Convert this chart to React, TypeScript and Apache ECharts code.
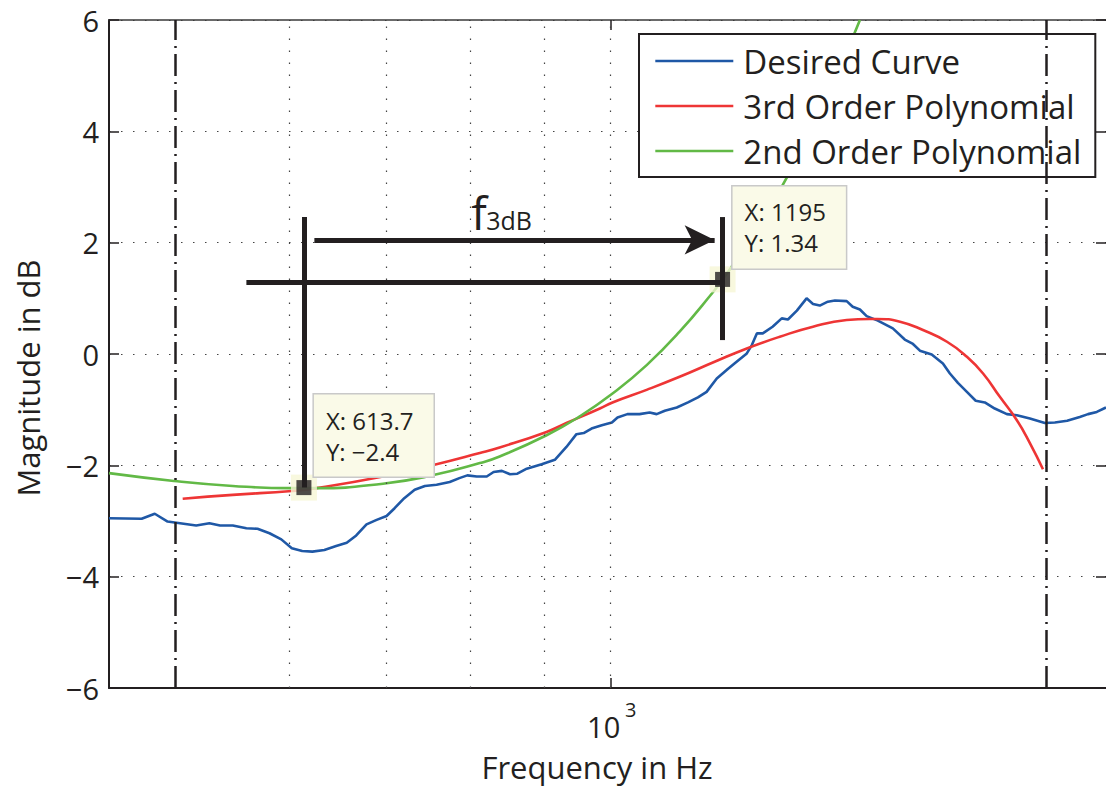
import React, { useEffect, useRef } from "react";
import * as echarts from "echarts";

const FONT = "'Open Sans', 'Noto Sans', sans-serif";
const INK = "#231f20";
const BLUE = "#1f58a6";
const RED = "#ee3535";
const GREEN = "#62b946";

const seriesNames = ["Desired Curve", "3rd Order Polynomial", "2nd Order Polynomial"];

// [frequency in Hz, magnitude in dB]
const desiredCurve: [number, number][] = [
  [450, -2.95], [474, -2.96], [484, -2.87], [494, -3.01], [501, -3.03], [517, -3.08], [528, -3.04],
  [537, -3.08], [548, -3.08], [560, -3.13], [570, -3.14], [581, -3.22], [592, -3.33], [602, -3.49],
  [612, -3.54], [622, -3.55], [634, -3.52], [646, -3.45], [657, -3.39], [667, -3.26], [678, -3.06],
  [689, -2.98], [700, -2.91], [709, -2.77], [720, -2.59], [732, -2.44], [744, -2.37], [758, -2.35],
  [774, -2.3], [786, -2.23], [796, -2.18], [808, -2.2], [821, -2.2], [830, -2.12], [841, -2.1],
  [852, -2.16], [862, -2.15], [875, -2.06], [896, -1.98], [915, -1.9], [932, -1.67], [947, -1.44],
  [958, -1.42], [970, -1.34], [986, -1.28], [1002, -1.23], [1011, -1.14], [1027, -1.08], [1047, -1.08],
  [1064, -1.05], [1076, -1.08], [1090, -1.02], [1111, -0.96], [1131, -0.87], [1149, -0.78], [1165, -0.68],
  [1184, -0.44], [1205, -0.27], [1222, -0.14], [1242, 0.01], [1252, 0.16], [1262, 0.37], [1274, 0.37],
  [1294, 0.49], [1313, 0.64], [1326, 0.62], [1345, 0.78], [1366, 1.0], [1380, 0.9], [1395, 0.87],
  [1413, 0.94], [1429, 0.96], [1456, 0.95], [1470, 0.85], [1487, 0.8], [1503, 0.68], [1530, 0.6],
  [1567, 0.46], [1597, 0.26], [1618, 0.18], [1636, 0.06], [1667, -0.01], [1697, -0.17], [1716, -0.35],
  [1738, -0.52], [1763, -0.68], [1788, -0.84], [1814, -0.87], [1843, -0.98], [1879, -1.08], [1909, -1.1],
  [1949, -1.16], [1996, -1.24], [2028, -1.23], [2068, -1.2], [2110, -1.13], [2138, -1.08], [2168, -1.04],
  [2200, -0.96],
];

const thirdOrderFit: [number, number][] = [
  [506, -2.6], [548, -2.53], [602, -2.46], [626, -2.41], [696, -2.2], [753, -2.0], [812, -1.78],
  [838, -1.68], [903, -1.4], [932, -1.24], [983, -0.98], [1003, -0.87], [1060, -0.64], [1116, -0.41],
  [1180, -0.14], [1242, 0.1], [1309, 0.31], [1380, 0.49], [1456, 0.61], [1510, 0.63], [1528, 0.63],
  [1585, 0.58], [1644, 0.43], [1708, 0.22], [1763, -0.05], [1809, -0.35], [1858, -0.77], [1909, -1.19],
  [1949, -1.6], [1990, -2.07],
];

const secondOrderFit: [number, number][] = [
  [450, -2.14], [499, -2.28], [548, -2.37], [600, -2.41], [626, -2.41], [696, -2.33], [753, -2.18],
  [812, -1.96], [838, -1.84], [903, -1.46], [952, -1.12], [1003, -0.71], [1059, -0.2], [1116, 0.4],
  [1176, 1.1], [1195, 1.34], [1214, 1.59], [1268, 2.33], [1323, 3.16], [1401, 4.43], [1487, 6.0],
];

const xRange = [450, 2200];
const yRange = [-6, 6];
const yStep = 2;
const xTickValues = [1000];
const xGridValues = [600, 700, 800, 900, 1000];
const cutoffFreqs = [500, 2000];

const dataTipPoints: [number, number][] = [[613.7, -2.4], [1195, 1.34]];
const dataTipTexts = [["X: 613.7", "Y: \u22122.4"], ["X: 1195", "Y: 1.34"]];

const guideLines: [number, number][][] = [
  [[613.7, -2.4], [613.7, 2.46]],
  [[560, 1.28], [1195, 1.28]],
  [[1195, 2.46], [1195, 0.25]],
];
const f3dBArrow: [number, number][] = [[624, 2.05], [1180, 2.05]];
const f3dBLabelAnchor: [number, number] = [801, 2.23];

export default function App() {
  const ref = useRef<HTMLDivElement>(null);
  useEffect(() => {
    const chart = echarts.init(ref.current!, null, { renderer: "svg" });
    const option: any = {
      animation: false,
      backgroundColor: "#ffffff",
      textStyle: { fontFamily: FONT },
      grid: { left: 109, top: 20, right: 0, bottom: 101, containLabel: false },
      legend: {
        data: seriesNames,
        orient: "vertical",
        left: 639,
        top: 34,
        padding: [9, 14, 8, 15],
        itemGap: 9,
        itemWidth: 78,
        itemHeight: 36,
        backgroundColor: "#ffffff",
        borderColor: INK,
        borderWidth: 2,
        borderRadius: 0,
        itemStyle: { opacity: 0 },
        lineStyle: { width: 2.6 },
        textStyle: { fontFamily: FONT, fontSize: 33, color: INK, lineHeight: 36, padding: [0, 0, 0, 5] },
        selectedMode: false,
      },
      xAxis: [
        {
          type: "log",
          logBase: 10,
          min: xRange[0],
          max: xRange[1],
          position: "bottom",
          axisLine: { show: true, onZero: false, lineStyle: { color: INK, width: 2 } },
          axisTick: { show: true, inside: true, length: 10, customValues: xTickValues, lineStyle: { color: INK, width: 1.5 } },
          axisLabel: { show: false },
          splitLine: { show: false },
          minorTick: { show: false },
          minorSplitLine: { show: false },
        },
        {
          type: "log",
          logBase: 10,
          min: xRange[0],
          max: xRange[1],
          position: "top",
          axisLine: { show: true, onZero: false, lineStyle: { color: "#3a3a3a", width: 1.5 } },
          axisTick: { show: true, inside: true, length: 10, customValues: xTickValues, lineStyle: { color: INK, width: 1.5 } },
          axisLabel: { show: false },
          splitLine: { show: false },
        },
      ],
      yAxis: [
        {
          type: "value",
          min: yRange[0],
          max: yRange[1],
          interval: yStep,
          position: "left",
          axisLine: { show: true, onZero: false, lineStyle: { color: INK, width: 2 } },
          axisTick: { show: true, inside: true, length: 10, lineStyle: { color: INK, width: 1.5 } },
          axisLabel: {
            show: true,
            margin: 10,
            fontFamily: FONT,
            fontSize: 29,
            color: INK,
            padding: [6, 0, 0, 0],
            formatter: (v: number) => (v < 0 ? "\u2212" + Math.abs(v) : String(v)),
          },
          splitLine: { show: true, lineStyle: { color: "#444", type: [1.5, 10.5], width: 1.2 } },
        },
        {
          type: "value",
          min: yRange[0],
          max: yRange[1],
          interval: yStep,
          position: "right",
          axisLine: { show: false, onZero: false },
          axisTick: { show: true, inside: true, length: 10, lineStyle: { color: INK, width: 1.5 } },
          axisLabel: { show: false },
          splitLine: { show: false },
        },
      ],
      series: [
        {
          name: seriesNames[0],
          type: "line",
          data: desiredCurve,
          showSymbol: false,
          symbol: "none",
          lineStyle: { color: BLUE, width: 2.6 },
          itemStyle: { color: BLUE },
          z: 2,
        },
        {
          name: seriesNames[1],
          type: "line",
          data: thirdOrderFit,
          smooth: 0.5,
          symbol: "none",
          lineStyle: { color: RED, width: 2.6 },
          itemStyle: { color: RED },
          z: 2,
        },
        {
          name: seriesNames[2],
          type: "line",
          data: secondOrderFit,
          smooth: 0.5,
          symbol: "none",
          lineStyle: { color: GREEN, width: 2.6 },
          itemStyle: { color: GREEN },
          z: 2,
        },
        {
          name: "gridlines",
          type: "line",
          data: [],
          z: 1,
          silent: true,
          markLine: {
            silent: true,
            symbol: ["none", "none"],
            label: { show: false },
            lineStyle: { color: "#444", type: [1.5, 10.5], width: 1.2 },
            data: xGridValues.map((v) => ({ xAxis: v })),
          },
        },
        {
          name: "cutoffs",
          type: "line",
          data: [],
          z: 3,
          silent: true,
          markLine: {
            silent: true,
            symbol: ["none", "none"],
            label: { show: false },
            lineStyle: { color: INK, type: [22, 6, 2, 6], width: 2.5 },
            data: cutoffFreqs.map((v) => ({ xAxis: v })),
          },
        },
        {
          name: "tipHighlight",
          type: "scatter",
          data: dataTipPoints,
          symbol: "rect",
          symbolSize: 26,
          itemStyle: { color: "#f6f6d6" },
          z: 3,
          silent: true,
        },
        {
          name: "guides",
          type: "line",
          data: [],
          z: 4,
          silent: true,
          markLine: {
            silent: true,
            symbol: ["none", "none"],
            label: { show: false },
            lineStyle: { color: INK, type: "solid", width: 5 },
            data: [
              ...guideLines.map((seg) => [{ coord: seg[0] }, { coord: seg[1] }]),
              [
                { coord: f3dBArrow[0], symbol: "none" },
                { coord: f3dBArrow[1], symbol: "arrow", symbolSize: [22, 30] },
              ],
            ],
          },
        },
        {
          name: "tipMarker",
          type: "scatter",
          data: dataTipPoints,
          symbol: "rect",
          symbolSize: 15,
          itemStyle: { color: INK },
          z: 5,
          silent: true,
        },
      ],
    };
    chart.setOption(option);

    const px = (p: [number, number]) => chart.convertToPixel({ seriesIndex: 0 }, p) as number[];
    const graphics: any[] = [];
    dataTipPoints.forEach((pt, i) => {
      const p = px(pt);
      graphics.push({
        type: "text",
        x: p[0] + 10,
        y: p[1] - 93,
        z: 50,
        style: {
          text: dataTipTexts[i].join("\n"),
          fontFamily: FONT,
          fontSize: 24,
          lineHeight: 31,
          fill: INK,
          align: "left",
          verticalAlign: "top",
          backgroundColor: "#fafae8",
          borderColor: "#c9c9c9",
          borderWidth: 1.5,
          padding: [10, 20, 10, 12],
        },
      });
    });
    const fa = px(f3dBLabelAnchor);
    graphics.push({
      type: "text",
      x: fa[0],
      y: fa[1] - 18,
      z: 50,
      style: { text: "f", fontFamily: FONT, fontSize: 46, fill: INK, align: "left", verticalAlign: "middle" },
    });
    graphics.push({
      type: "text",
      x: fa[0] + 15,
      y: fa[1] - 10,
      z: 50,
      style: { text: "3dB", fontFamily: FONT, fontSize: 25, fill: INK, align: "left", verticalAlign: "middle" },
    });
    const t = px([xTickValues[0], yRange[0]]);
    graphics.push({
      type: "text",
      x: t[0] - 7,
      y: t[1] + 38,
      z: 50,
      style: { text: "10", fontFamily: FONT, fontSize: 29, fill: INK, align: "center", verticalAlign: "middle" },
    });
    graphics.push({
      type: "text",
      x: t[0] + 20,
      y: t[1] + 21,
      z: 50,
      style: { text: "3", fontFamily: FONT, fontSize: 20, fill: INK, align: "center", verticalAlign: "middle" },
    });
    graphics.push({
      type: "text",
      x: 597,
      y: 767,
      z: 50,
      style: { text: "Frequency in Hz", fontFamily: FONT, fontSize: 31, fill: INK, align: "center", verticalAlign: "middle" },
    });
    graphics.push({
      type: "text",
      x: 28,
      y: 378,
      rotation: Math.PI / 2,
      z: 50,
      style: { text: "Magnitude in dB", fontFamily: FONT, fontSize: 31, fill: INK, align: "center", verticalAlign: "middle" },
    });
    chart.setOption({ graphic: graphics });

    return () => chart.dispose();
  }, []);
  return (
    <div
      ref={ref}
      style={{ position: "absolute", left: 0, top: 0, width: 1106, height: 789, background: "#ffffff" }}
    />
  );
}
